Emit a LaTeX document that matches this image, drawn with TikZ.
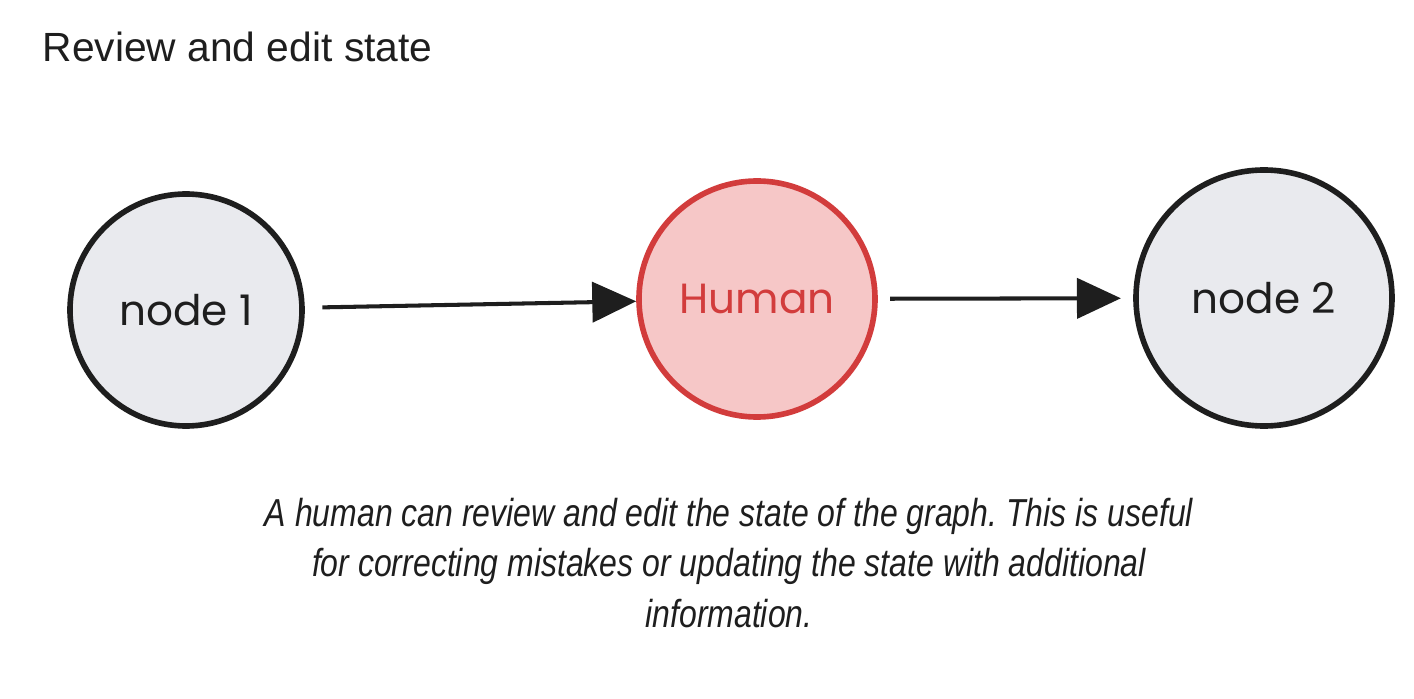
\documentclass[tikz,border=0pt]{standalone}
\usepackage{fontspec}
\setmainfont{Liberation Sans}
\newfontfamily\handfont{Poppins}
\newfontfamily\notefont[FakeStretch=0.82]{Liberation Sans}
\usepackage{tikz}
\usetikzlibrary{arrows.meta}
\definecolor{inkblack}{RGB}{30,30,30}
\definecolor{nodegrey}{RGB}{233,234,238}
\definecolor{humanred}{RGB}{210,60,60}
\definecolor{humanpink}{RGB}{246,199,199}
\frenchspacing

\begin{document}
\begin{tikzpicture}[
    graphnode/.style={circle,draw=inkblack,fill=nodegrey,line width=1.6pt,
      inner sep=0pt,font=\handfont\fontsize{12}{14}\selectfont,text=inkblack},
    humannode/.style={graphnode,draw=humanred,fill=humanpink,text=humanred},
    flow/.style={-{Triangle[length=12.5pt,width=11.4pt]},line width=1.15pt,draw=inkblack}
  ]
        \useasboundingbox(0,0)rectangle(14.14,6.98);
        \node[anchor=base west,inner sep=0pt,font=\fontsize{11.6}{14}\selectfont,text=inkblack]
          (title)at(0.42,6.36){Review and edit state};
        \node[graphnode,minimum size=2.32cm](n1)at(1.86,3.88){node 1};
        \node[humannode,minimum size=2.36cm](human)at(7.57,3.99){Human};
        \node[graphnode,minimum size=2.56cm](n2)at(12.64,4.00){node 2};
        \draw[flow,shorten <=5pt](n1)--(human);
        \draw[flow,shorten <=3.5pt,shorten >=3.5pt](human)--(n2);
        \node[align=center,text=inkblack,
          font=\notefont\itshape\fontsize{11.1}{14.3}\selectfont]
          (note)at(7.29,1.35){A human can review and edit the state of the graph. This is useful\\
          for correcting mistakes or updating the state with additional\\
          information.};
      \end{tikzpicture}
\end{document}
